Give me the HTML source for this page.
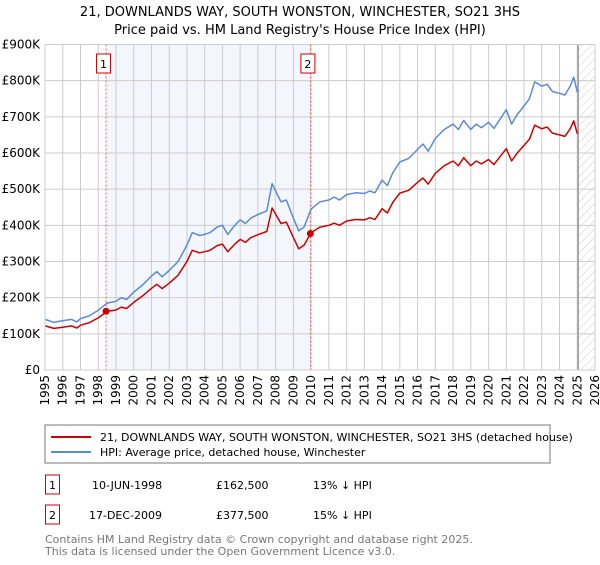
<!DOCTYPE html>
<html><head><meta charset="utf-8"><style>
body{margin:0;background:#fff;font-family:"Liberation Sans","DejaVu Sans",sans-serif;}
svg text{font-family:"DejaVu Sans","Liberation Sans",sans-serif;}
</style></head><body>
<svg id="chart" width="600" height="560" xmlns="http://www.w3.org/2000/svg">
<defs><pattern id="hatch" width="6" height="6" patternUnits="userSpaceOnUse" patternTransform="rotate(45)"><line x1="0" y1="0" x2="0" y2="6" stroke="#ccc" stroke-width="1"/></pattern></defs>
<text x="300" y="16" text-anchor="middle" font-size="13">21, DOWNLANDS WAY, SOUTH WONSTON, WINCHESTER, SO21 3HS</text>
<text x="300" y="34" text-anchor="middle" font-size="13">Price paid vs. HM Land Registry's House Price Index (HPI)</text>
<g id="plot"></g>
<rect x="45" y="425" width="505" height="38" fill="#fff" stroke="#777"/>
<line x1="51" y1="437" x2="91" y2="437" stroke="#cc0000" stroke-width="2"/>
<text x="100" y="441" font-size="11">21, DOWNLANDS WAY, SOUTH WONSTON, WINCHESTER, SO21 3HS (detached house)</text>
<line x1="51" y1="452" x2="91" y2="452" stroke="#5b8bd0" stroke-width="2"/>
<text x="100" y="456" font-size="11">HPI: Average price, detached house, Winchester</text>
<g font-size="11">
<rect x="45.5" y="475" width="14" height="19" fill="#fff" stroke="#cc0000"/>
<text x="52.5" y="489" text-anchor="middle">1</text>
<text x="92" y="489">10-JUN-1998</text>
<text x="216" y="489">£162,500</text>
<text x="313" y="489">13% ↓ HPI</text>
<rect x="45.5" y="505" width="14" height="19" fill="#fff" stroke="#cc0000"/>
<text x="52.5" y="519" text-anchor="middle">2</text>
<text x="89" y="519">17-DEC-2009</text>
<text x="216" y="519">£377,500</text>
<text x="313" y="519">15% ↓ HPI</text>
</g>
<text x="45" y="543" font-size="11" fill="#777">Contains HM Land Registry data © Crown copyright and database right 2025.</text>
<text x="45" y="555" font-size="11" fill="#777">This data is licensed under the Open Government Licence v3.0.</text>
</svg>
<script>
const hpiYears=[1995.0,1995.5,1996.0,1996.5,1996.8,1997.0,1997.5,1998.0,1998.5,1999.0,1999.3,1999.6,2000.0,2000.5,2001.0,2001.3,2001.6,2002.0,2002.5,2003.0,2003.3,2003.7,2004.0,2004.3,2004.7,2005.0,2005.3,2005.7,2006.0,2006.3,2006.6,2007.0,2007.5,2007.8,2008.0,2008.3,2008.6,2009.0,2009.3,2009.6,2010.0,2010.5,2011.0,2011.3,2011.6,2012.0,2012.5,2013.0,2013.3,2013.6,2014.0,2014.3,2014.6,2015.0,2015.5,2016.0,2016.3,2016.6,2017.0,2017.5,2018.0,2018.3,2018.6,2019.0,2019.3,2019.6,2020.0,2020.3,2020.6,2021.0,2021.3,2021.6,2022.0,2022.3,2022.6,2023.0,2023.3,2023.6,2024.0,2024.3,2024.6,2024.8,2025.0];
const hpiValues=[140,132,136,140,133,142,150,165,185,190,200,195,215,235,260,272,258,275,300,345,380,372,375,380,395,400,375,400,415,405,420,430,440,515,495,465,470,420,385,395,445,465,470,478,470,485,490,488,495,490,525,510,545,575,585,610,625,605,640,665,680,665,690,665,680,670,685,668,690,720,680,705,730,750,797,785,790,770,765,760,785,810,768];
const propValues=[122,115,118,122,116,124,131,144,162,166,174,170,187,205,226,237,225,240,262,300,331,324,327,331,344,348,327,348,361,353,366,374,383,448,431,405,409,366,335,345,380,395,400,406,400,412,416,415,421,416,446,434,463,489,497,519,531,514,544,565,578,565,587,565,578,570,582,568,587,612,578,599,621,638,677,667,672,655,650,646,667,689,653];
const yTicks=[0,100,200,300,400,500,600,700,800,900];
const yTickLabels=["£0","£100K","£200K","£300K","£400K","£500K","£600K","£700K","£800K","£900K"];
const xTicks=[1995,1996,1997,1998,1999,2000,2001,2002,2003,2004,2005,2006,2007,2008,2009,2010,2011,2012,2013,2014,2015,2016,2017,2018,2019,2020,2021,2022,2023,2024,2025,2026];
const saleYears=[1998.44,2009.96];
const salePrices=[162.5,377.5];
const saleLabels=["1","2"];
const hatchStart=2025.05;

const L=45,R=595,T=44.5,B=370;
const X=y=>L+(y-1995)/(2026-1995)*(R-L);
const Y=v=>B-v/900*(B-T);
const NS="http://www.w3.org/2000/svg";
const g=document.getElementById('plot');
function mk(tag,attrs,parent){const e=document.createElementNS(NS,tag);for(const k in attrs)e.setAttribute(k,attrs[k]);(parent||g).appendChild(e);return e;}

let r=mk('rect',{x:X(saleYears[0]),y:T,width:X(saleYears[1])-X(saleYears[0]),height:B-T,fill:'#f3f6fd'});


r=mk('rect',{x:X(hatchStart),y:T,width:R-X(hatchStart),height:B-T,fill:'url(#hatch)'});



xTicks.forEach(t=>{
  const l=mk('line',{x1:X(t),x2:X(t),y1:T,y2:B,stroke:'#ccc','stroke-width':1});
  
  
  const tx=mk('text',{x:0,y:0,'font-size':12,'text-anchor':'end',transform:`translate(${X(t)+4},${B+5}) rotate(-90)`});
  tx.textContent=t;
  
  
});
yTicks.forEach((t,i)=>{
  const l=mk('line',{x1:L,x2:R,y1:Y(t),y2:Y(t),stroke:'#ccc','stroke-width':1});
  
  
  const tx=mk('text',{x:L-5,y:Y(t)+4,'font-size':12,'text-anchor':'end'});
  tx.textContent=yTickLabels[i];
  
  
});
let hl=mk('line',{x1:X(hatchStart),x2:X(hatchStart),y1:T,y2:B,stroke:'#999','stroke-width':1.5});



saleYears.forEach((s,i)=>{
  const l=mk('line',{x1:X(s),x2:X(s),y1:T,y2:B,stroke:'#e06060','stroke-width':1,'stroke-dasharray':'2,2'});
  
  
  const b=mk('rect',{x:X(s)-9.5,y:54,width:14,height:19,fill:'#fff',stroke:'#cc0000'});
  
  
  const t=mk('text',{x:X(s)-2.5,y:68,'font-size':11,'text-anchor':'middle'});
  t.textContent=saleLabels[i];
  
  
});

function path(vals,color,name){
  const d=hpiYears.map((y,i)=>(i?'L':'M')+X(y).toFixed(1)+','+Y(vals[i]).toFixed(1)).join('');
  const p=mk('path',{d:d,fill:'none',stroke:color,'stroke-width':1.5,'stroke-linejoin':'round'});
  
  
}
path(hpiValues,'#5b8bd0','hpi-line');
path(propValues,'#cc0000','property-line');
saleYears.forEach((s,i)=>{
  const c=mk('circle',{cx:X(s),cy:Y(salePrices[i]),r:3.5,fill:'#cc0000'});
  
  
});
let fr=mk('rect',{x:L,y:T,width:R-L,height:B-T,fill:'none',stroke:'#ccc'});


</script>
</body></html>
